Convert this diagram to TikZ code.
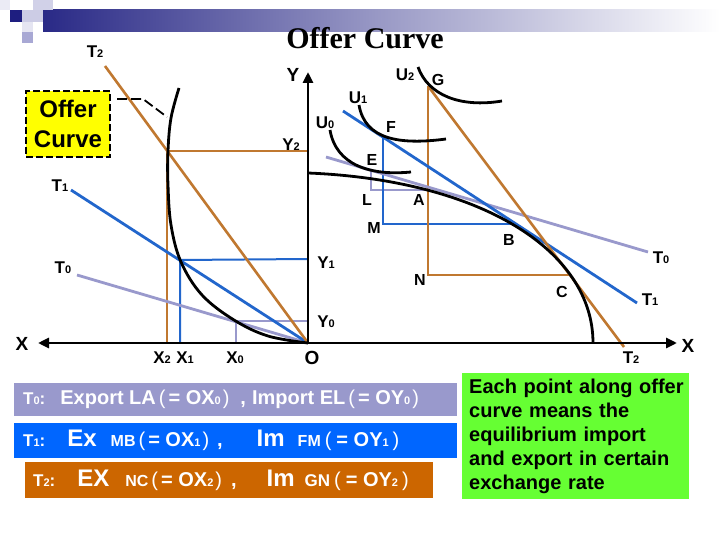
\documentclass[tikz,border=0pt]{standalone}
\usepackage{fontspec}
\setmainfont{Liberation Sans}
\newfontfamily\titlefont{Liberation Serif}
\usepackage{tikz}
\usepackage{xcolor}
\usetikzlibrary{arrows.meta, positioning, calc}
\definecolor{OCNavy}{HTML}{1E1E80}
\definecolor{OCLavender}{HTML}{9999CC}
\definecolor{OCBlue}{HTML}{2266CC}
\definecolor{OCBoxBlue}{HTML}{0066FF}
\definecolor{OCOrange}{HTML}{C07830}
\definecolor{OCBoxOrange}{HTML}{CC6600}
\definecolor{OCGreen}{HTML}{66FF33}
\definecolor{OCYellow}{HTML}{FFFF00}
\newcommand{\fs}[1]{\fontsize{#1}{#1}\selectfont}
\newcommand{\sbs}[1]{{\fs{11}#1}}
\newcommand{\opn}{{\mdseries\hspace{3pt}(\hspace{3pt}}}
\newcommand{\cls}{{\mdseries\hspace{2pt})}}
\newcommand{\opnw}{{\mdseries\hspace{4pt}(\hspace{5pt}}}
\newcommand{\clsw}{{\mdseries\hspace{4pt})}}
\tikzset{
    % labels on the graph
    lbl/.style={
        font=\fs{17}\bfseries,
        inner sep=0pt
    },
    pt lbl/.style={
        lbl,
        font=\fs{16}\bfseries
    },
    big lbl/.style={
        lbl,
        font=\fs{19}\bfseries
    },
    % lines
    axis line/.style={
        line width=2.8pt,
        black
    },
    curve line/.style={
        line width=2.8pt,
        black
    },
    lavender line/.style={
        line width=2.8pt,
        OCLavender
    },
    blue line/.style={
        line width=2.8pt,
        OCBlue
    },
    orange line/.style={
        line width=2.6pt,
        OCOrange
    },
    guide lavender/.style={
        line width=2pt,
        OCLavender
    },
    guide blue/.style={
        line width=2pt,
        OCBlue
    },
    guide orange/.style={
        line width=2pt,
        OCOrange
    },
    % boxes at the bottom
    rate box/.style={
        rectangle,
        inner sep=0pt,
        anchor=north west
    },
    rate text/.style={
        text=white,
        font=\fs{20}\bfseries,
        inner sep=0pt,
        anchor=west
    }
}
\begin{document}
\begin{tikzpicture}[x=1pt, y=-1pt]
        \useasboundingbox (0,0) rectangle (720,540);

        % Slide decoration
        \fill[white] (0,0) rectangle (720,540);
        \shade[left color=OCNavy!95, right color=white, middle color=OCNavy!45] (43,10) rectangle (720,32);
        \fill[OCLavender!20] (0,0) rectangle (10,10);
        \fill[OCLavender!45] (33,0) rectangle (53,10);
        \fill[OCLavender!50] (22,10) rectangle (43,22);
        \fill[OCNavy] (10,10) rectangle (22,22);
        \fill[OCLavender!25] (22,22) rectangle (33,32);
        \fill[OCLavender!85] (22,32) rectangle (33,43);

        % Title
        \node[font=\titlefont\fs{30}\bfseries, inner sep=0pt] (title) at (365,38) {Offer Curve};

        % Key points
        \coordinate (O) at (308,343);
        \coordinate (ytop) at (308,72);
        \coordinate (xleft) at (38,343);
        \coordinate (xright) at (677,343);
        \coordinate (E) at (371,170);
        \coordinate (L) at (371,190);
        \coordinate (A) at (428,190);
        \coordinate (F) at (383,137);
        \coordinate (M) at (383,224);
        \coordinate (B) at (512,224);
        \coordinate (G) at (428,86);
        \coordinate (N) at (428,275);
        \coordinate (C) at (570,275);
        \coordinate (p0) at (236,321);
        \coordinate (p1) at (180,260);
        \coordinate (p2) at (167,151);
        \coordinate (y0) at (308,321);
        \coordinate (y1) at (308,259);
        \coordinate (y2) at (308,151);
        \coordinate (x0) at (236,343);
        \coordinate (x1) at (180,343);
        \coordinate (x2) at (167,343);

        % Trade triangles
        \draw[guide lavender] (E) -- (L) -- (A);
        \draw[guide blue] (F) -- (M) -- (B);
        \draw[guide orange] (G) -- (N) -- (C);
        \draw[guide lavender] (y0) -- (p0) -- (x0);
        \draw[guide blue] (y1) -- (p1) -- (x1);
        \draw[guide orange] (y2) -- (p2) -- (x2);

        % Terms of trade lines
        \draw[lavender line] (326,157) coordinate (t0a) -- (648,252) coordinate (t0b);
        \draw[blue line] (343,111) coordinate (t1a) -- (637,303) coordinate (t1b);
        \draw[orange line] (G) -- (624,347) coordinate (t2b);
        \draw[lavender line] (O) -- (77,275) coordinate (t0l);
        \draw[blue line] (O) -- (71,190) coordinate (t1l);
        \draw[orange line] (O) -- (105,66) coordinate (t2l);

        % Production frontier and indifference curves
        \draw[curve line] (308,173) .. controls (480,180) and (593,250) .. (593,343);
        \draw[curve line] (330,130) .. controls (336,165) and (370,176) .. (411,172);
        \draw[curve line] (359,105) .. controls (365,140) and (400,145) .. (446,139);
        \draw[curve line] (418,67) .. controls (428,95) and (460,108) .. (502,101);

        % Offer curve
        \draw[curve line] plot[smooth, tension=0.6] coordinates {(308,343) (268,336) (234,320) (202,295) (181,262) (171,225) (168,185) (168,151) (171,118) (179,88)};

        % Axes
        \draw[axis line, -{Triangle[length=11pt, width=10pt]}] (O) -- (ytop);
        \draw[axis line, {Triangle[length=11pt, width=10pt]}-{Triangle[length=11pt, width=10pt]}] (xleft) -- (xright);

        % Offer curve callout
        \node[draw=black, line width=1.8pt, dash pattern=on 7pt off 3pt, fill=OCYellow,
              minimum width=84pt, minimum height=66pt, inner sep=0pt, align=center,
              font=\fontsize{24}{30}\selectfont\bfseries] (callout) at (68,124) {Offer\\Curve};
        \coordinate (bend) at (143,99);
        \draw[line width=1.8pt, dash pattern=on 10pt off 4pt] (117,99) -- (bend) -- (167,117);

        % Labels
        \node[lbl] (lT2a) at (95,52) {T\sbs{2}};
        \node[big lbl] (lY) at (293,75) {Y};
        \node[lbl] (lU2) at (405,75) {U\sbs{2}};
        \node[pt lbl] (lG) at (438,80) {G};
        \node[lbl] (lU1) at (358,98) {U\sbs{1}};
        \node[lbl] (lU0) at (325,123) {U\sbs{0}};
        \node[pt lbl] (lF) at (391,127) {F};
        \node[lbl] (lY2) at (291,145) {Y\sbs{2}};
        \node[pt lbl] (lE) at (372,160) {E};
        \node[lbl] (lT1a) at (60,186) {T\sbs{1}};
        \node[pt lbl] (lL) at (367,200) {L};
        \node[pt lbl] (lA) at (419,200) {A};
        \node[pt lbl] (lM) at (374,228) {M};
        \node[pt lbl] (lB) at (509,240) {B};
        \node[lbl] (lT0b) at (661,258) {T\sbs{0}};
        \node[lbl] (lT0a) at (63,268) {T\sbs{0}};
        \node[lbl] (lY1) at (326,263) {Y\sbs{1}};
        \node[pt lbl] (lN) at (420,280) {N};
        \node[pt lbl] (lC) at (562,292) {C};
        \node[lbl] (lT1b) at (650,300) {T\sbs{1}};
        \node[lbl] (lY0) at (326,322) {Y\sbs{0}};
        \node[big lbl] (lXa) at (22,344) {X};
        \node[big lbl] (lXb) at (688,346) {X};
        \node[lbl] (lX2) at (162,358) {X\sbs{2}};
        \node[lbl] (lX1) at (185,358) {X\sbs{1}};
        \node[lbl] (lX0) at (235,358) {X\sbs{0}};
        \node[big lbl] (lO) at (312,358) {O};
        \node[lbl] (lT2b) at (631,358) {T\sbs{2}};

        % Terms of trade boxes
        \node[rate box, fill=OCLavender, minimum width=443pt, minimum height=33pt] (box0) at (14,383) {};
        \node[rate box, fill=OCBoxBlue, minimum width=443pt, minimum height=35pt] (box1) at (14,423) {};
        \node[rate box, fill=OCBoxOrange, minimum width=408pt, minimum height=36pt] (box2) at (25,462) {};
        \node[rate text] (text0) at ($(box0.west)+(9,0)$)
            {{\fs{17}T\sbs{0}:}\hspace{15pt}Export LA\opn= OX\sbs{0}\cls\hspace{11pt},\hspace{6pt}Import EL\opn= OY\sbs{0}\cls};
        \node[rate text] (text1) at ($(box1.west)+(9,0)$)
            {{\fs{17}T\sbs{1}:}\hspace{22pt}{\fs{24}Ex}\hspace{14pt}{\fs{16}MB}\opn= OX\sbs{1}\cls\hspace{8pt},\hspace{34pt}{\fs{24}Im}\hspace{13pt}{\fs{16}FM}\opnw= OY\sbs{1}\clsw};
        \node[rate text] (text2) at ($(box2.west)+(8,0)$)
            {{\fs{17}T\sbs{2}:}\hspace{22pt}{\fs{24}EX}\hspace{16pt}{\fs{16}NC}\opn= OX\sbs{2}\cls\hspace{9pt},\hspace{30pt}{\fs{24}Im}\hspace{10pt}{\fs{17}GN}\opnw= OY\sbs{2}\clsw};

        % Explanation box
        \node[rectangle, fill=OCGreen, anchor=north west, minimum width=227pt, minimum height=126pt,
              inner sep=0pt] (note) at (462,373) {};
        \node[anchor=north west, align=left, inner sep=0pt, font=\fontsize{20}{24}\selectfont\bfseries,
              text width=222pt] (notetext) at ($(note.north west)+(7,6)$)
            {Each point along offer\\curve means the\\equilibrium import\\and export in certain\\exchange rate};
    \end{tikzpicture}
\end{document}
